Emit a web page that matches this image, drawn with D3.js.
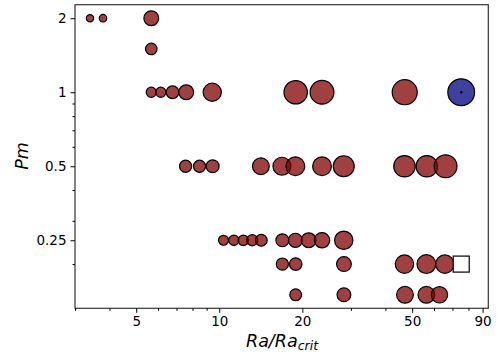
<!DOCTYPE html>
<html><head><meta charset="utf-8">
<script src="https://cdn.jsdelivr.net/npm/d3@7"></script>
<style>body{margin:0;background:#fff;} svg{display:block;font-family:"DejaVu Sans",sans-serif;}</style>
</head><body>
<svg id="c" width="497" height="356"></svg>
<script>
// Data: Ra/Ra_crit, Pm, marker size (relative area)
const raValues  = [3.4, 3.79, 5.67,  5.67,  5.67, 6.14, 6.77, 7.59, 9.43, 18.92, 23.57, 47.0,
  7.55, 8.48, 9.46, 14.15, 16.87, 18.87, 23.57, 28.25, 46.9, 56.5, 66.1,
  10.36, 11.29, 12.22, 13.17, 14.2, 16.93, 18.87, 21.09, 23.57, 28.25,
  16.93, 18.92, 28.3, 46.9, 56.3, 65.7,
  18.92, 28.3, 47.1, 56.3, 62.8];
const pmValues  = [2, 2, 2,  1.5,  1, 1, 1, 1, 1, 1, 1, 1,
  0.5, 0.5, 0.5, 0.5, 0.5, 0.5, 0.5, 0.5, 0.5, 0.5, 0.5,
  0.25, 0.25, 0.25, 0.25, 0.25, 0.25, 0.25, 0.25, 0.25, 0.25,
  0.2, 0.2, 0.2, 0.2, 0.2, 0.2,
  0.15, 0.15, 0.15, 0.15, 0.15];
const sizeValues = [18, 19, 64,  40,  32, 32, 48, 64, 94, 151, 156, 172,
  44, 44, 50, 81, 92, 100, 100, 123, 128, 128, 144,
  31, 33, 34, 38, 42, 50, 58, 64, 69, 96,
  45, 47, 64, 96, 100, 96,
  42, 56, 81, 81, 77];
// highlighted run (blue) and open run (square)
const blueRa = [75.3], bluePm = [1], blueSize = [196];
const squareRa = [75.3], squarePm = [0.2];

const xTicks = [5, 10, 20, 50, 90];
const xMinor = [3, 4, 6, 7, 8, 9, 30, 40, 60, 70, 80];
const yTicks = [0.25, 0.5, 1, 2];
const yTickLabels = ["0.25", "0.5", "1", "2"];
const yMinor = [0.2, 0.3, 0.4, 0.6, 0.7, 0.8, 0.9];
const xDomain = [3, 94.4];
const yDomain = [0.1322, 2.27];

const svg = d3.select("#c");
const L = 75, R = 488.3, T = 4.7, B = 308.3;
const x = d3.scaleLog().domain(xDomain).range([L, R]);
const y = d3.scaleLog().domain(yDomain).range([B, T]);
const rs = d3.scaleSqrt().domain([0, 100]).range([0, 10]);

const g = svg.append("g");
const pts = raValues.map((d, i) => ({ra: d, pm: pmValues[i], s: sizeValues[i]}));
g.selectAll("circle.p").data(pts).join("circle").attr("class", "p")
  .attr("cx", d => x(d.ra)).attr("cy", d => y(d.pm)).attr("r", d => rs(d.s) - 0.6)
  .attr("fill", "#800000").attr("fill-opacity", 0.75)
  .attr("stroke", "#000").attr("stroke-width", 1.2);

const bl = blueRa.map((d, i) => ({ra: d, pm: bluePm[i], s: blueSize[i]}));
g.selectAll("circle.b").data(bl).join("circle").attr("class", "b")
  .attr("cx", d => x(d.ra)).attr("cy", d => y(d.pm)).attr("r", d => rs(d.s) - 0.6)
  .attr("fill", "#000080").attr("fill-opacity", 0.75)
  .attr("stroke", "#000").attr("stroke-width", 1.2);
g.selectAll("circle.bd").data(bl).join("circle").attr("class", "bd")
  .attr("cx", d => x(d.ra)).attr("cy", d => y(d.pm)).attr("r", 1.2).attr("fill", "#000");

const sq = squareRa.map((d, i) => ({ra: d, pm: squarePm[i]}));
g.selectAll("rect.sq").data(sq).join("rect").attr("class", "sq")
  .attr("x", d => x(d.ra) - 8).attr("y", d => y(d.pm) - 8).attr("width", 16).attr("height", 16)
  .attr("fill", "#fff").attr("stroke", "#000").attr("stroke-width", 1.2);

// frame
svg.append("rect").attr("x", L).attr("y", T).attr("width", R - L).attr("height", B - T)
  .attr("fill", "none").attr("stroke", "#333").attr("stroke-width", 1.2);

// x axis
const xa = svg.append("g").attr("transform", `translate(0,${B})`);
xa.call(d3.axisBottom(x).tickValues(xTicks).tickFormat(d3.format("d")).tickSize(4.5).tickPadding(4));
const xm = svg.append("g").attr("transform", `translate(0,${B})`);
xm.call(d3.axisBottom(x).tickValues(xMinor).tickFormat("").tickSize(2.5));
// y axis
const ya = svg.append("g").attr("transform", `translate(${L},0)`);
ya.call(d3.axisLeft(y).tickValues(yTicks).tickFormat((d, i) => yTickLabels[i]).tickSize(4.5).tickPadding(4));
const ym = svg.append("g").attr("transform", `translate(${L},0)`);
ym.call(d3.axisLeft(y).tickValues(yMinor).tickFormat("").tickSize(2.5));
svg.selectAll(".domain").remove();
svg.selectAll(".tick line").attr("stroke", "#000").attr("stroke-width", 1);
svg.selectAll(".tick text").attr("font-size", 13.5).attr("fill", "#000").attr("font-family", "DejaVu Sans");

// labels
svg.append("text").attr("x", 282).attr("y", 347).attr("text-anchor", "middle")
  .attr("font-size", 17.5).attr("font-style", "italic").attr("font-family", "DejaVu Sans")
  .html('Ra/Ra<tspan font-size="12.5" dy="3">crit</tspan>');
svg.append("text").attr("transform", "translate(28,156) rotate(-90)").attr("text-anchor", "middle")
  .attr("font-size", 17.5).attr("font-style", "italic").attr("font-family", "DejaVu Sans").text("Pm");
</script>
</body></html>
